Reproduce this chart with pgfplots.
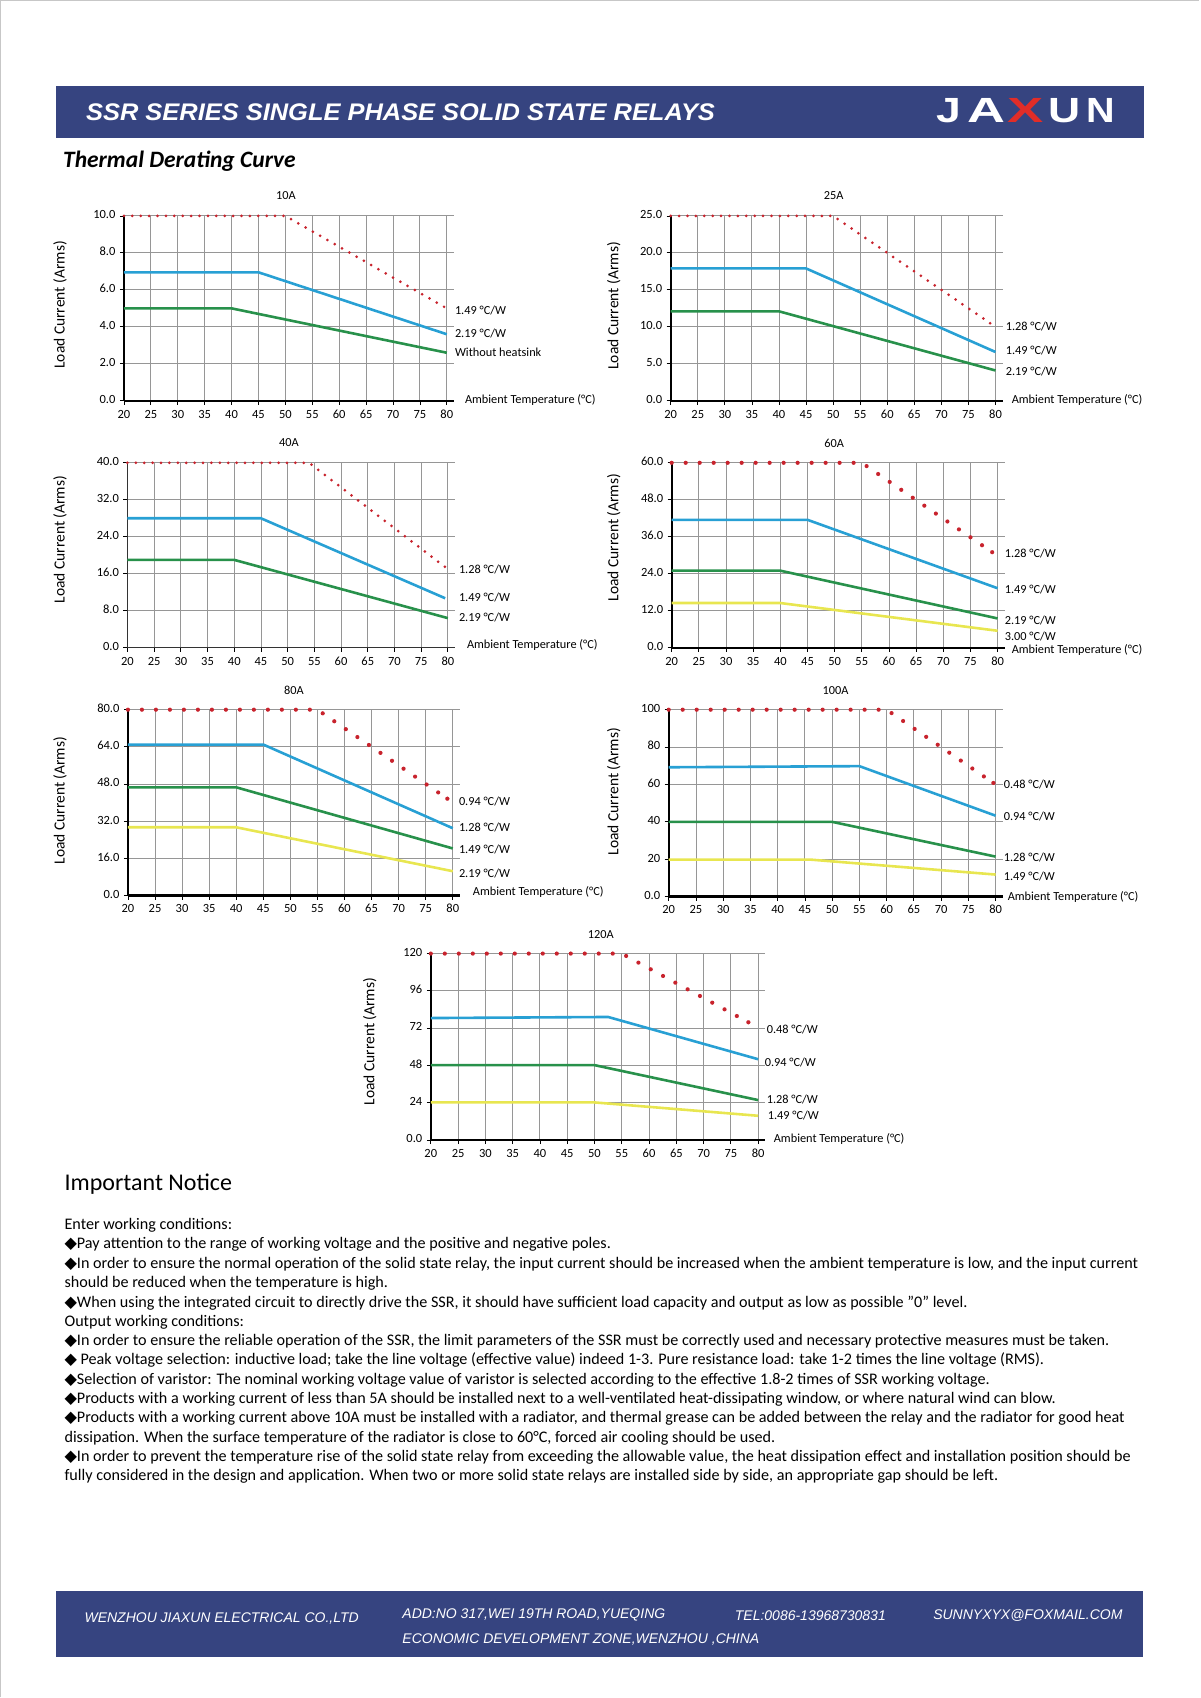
\documentclass[border=0pt]{standalone}
\usepackage{fontspec}
\usepackage{graphicx}
\setmainfont{Carlito}
\newfontfamily\arialfont{Liberation Sans}
\newfontfamily\bannerfont[FakeStretch=1.06]{Liberation Sans}
\newfontfamily\symfont{DejaVu Sans}
\usepackage{pgfplots}
\pgfplotsset{compat=1.18}

\definecolor{bannerblue}{RGB}{54,68,128}
\definecolor{cblue}{RGB}{40,160,212}
\definecolor{cgreen}{RGB}{40,145,75}
\definecolor{cyellow}{RGB}{232,230,80}
\definecolor{cred}{RGB}{200,35,45}
\definecolor{gridgray}{RGB}{150,150,150}
\definecolor{logored}{RGB}{225,45,40}

\newcommand{\labfont}{\fontsize{12.3}{14}\selectfont}
\newcommand{\tickfont}{\fontsize{12.5}{14}\selectfont}
\newcommand{\noticefont}{\fontsize{16.15}{19}\selectfont}
\newcommand{\dia}{{\symfont ◆}}
% text beside the curves: x, y in pixels from the top left corner
\newcommand{\lab}[3]{\node[anchor=west, inner sep=0pt, font=\labfont] at (#1pt,-#2pt) {#3};}
\newcommand{\ctitle}[3]{\node[inner sep=0pt, font=\labfont] at (#1pt,-#2pt) {#3};}
\newcommand{\ylab}[2]{\node[rotate=90, inner sep=0pt, font=\fontsize{15.5}{17}\selectfont] at (#1pt,-#2pt) {Load Current (Arms)};}
\newcommand{\nl}[2]{\node[anchor=west, inner sep=0pt, font=\noticefont] at (64.4pt,-#1pt) {#2};}
% one letter of the logo, widened
\newcommand{\logo}[4]{\node[inner sep=0pt, text=#3, font=\arialfont\bfseries\fontsize{35}{36}\selectfont] at (#1pt,-111pt) {\scalebox{#4}[1]{#2}};}

\pgfplotsset{
  derate/.style={
    scale only axis,
    anchor=south west,
    xmin=20, xmax=81.3, ymin=0,
    xtick={20,25,...,80},
    axis lines=left,
    axis line style={-, line width=2.4pt, black},
    grid=major,
    major grid style={draw=gridgray, line width=0.9pt},
    tick align=outside,
    major tick length=4pt,
    tick style={black, line width=0.8pt},
    tick label style={font=\tickfont},
    typeset ticklabels with strut,
    /pgf/number format/assume math mode=true,
    xticklabel shift=0pt,
    yticklabel shift=1pt,
    clip=false,
  },
  redsmall/.style={draw=cred, line width=3pt, line cap=round, dash pattern=on 0pt off 8.4pt, mark=none},
  redbig/.style={draw=cred, line width=4.2pt, line cap=round, dash pattern=on 0pt off 14pt,
    mark=*, mark indices={3}, mark size=2pt, mark options={solid, line width=0.1pt, fill=cred}},
  blueline/.style={draw=cblue, line width=2.6pt, mark=none},
  greenline/.style={draw=cgreen, line width=2.6pt, mark=none},
  yellowline/.style={draw=cyellow, line width=2.6pt, mark=none},
}

\begin{document}
\begin{tikzpicture}
\path (0pt,0pt) rectangle (1200pt,-1698pt);
\draw[black!22, line width=1.5pt] (0.75pt,-1698pt) -- (0.75pt,-0.75pt) -- (1200pt,-0.75pt);

% header
\fill[bannerblue] (56pt,-86pt) rectangle (1144pt,-138pt);
\node[anchor=west, inner sep=0pt, text=white, font=\bannerfont\bfseries\itshape\fontsize{24}{26}\selectfont] at (86pt,-112pt) {SSR SERIES SINGLE PHASE SOLID STATE RELAYS};
\logo{949}{J}{white}{1.27}
\logo{987}{A}{white}{1.5}
\logo{1026}{X}{logored}{1.55}
\logo{1064.5}{U}{white}{1.27}
\logo{1101}{N}{white}{1.13}
\node[anchor=west, inner sep=0pt, font=\bfseries\itshape\fontsize{23.5}{26}\selectfont] at (63pt,-161pt) {Thermal Derating Curve};

% ---------- 10A
\begin{axis}[derate, at={(124pt,-401pt)}, width=330pt, height=185pt, ymax=10,
  ytick={0,2,...,10}, yticklabels={0.0,2.0,4.0,6.0,8.0,10.0}]
\addplot[redsmall] coordinates {(20,10) (50,10) (80,5)};
\addplot[blueline] coordinates {(20,6.95) (45,6.95) (80,3.6)};
\addplot[greenline] coordinates {(20,5) (40,5) (80,2.6)};
\end{axis}
\ctitle{286}{196}{10A}
\ylab{60}{305}
\lab{455}{311}{1.49 °C/W}
\lab{455}{334}{2.19 °C/W}
\lab{455}{352}{Without heatsink}
\lab{465}{400}{Ambient Temperature (°C)}

% ---------- 25A
\begin{axis}[derate, at={(671pt,-401pt)}, width=332pt, height=185pt, ymax=25,
  ytick={0,5,...,25}, yticklabels={0.0,5.0,10.0,15.0,20.0,25.0}]
\addplot[redsmall] coordinates {(20,25) (50,25) (80,10)};
\addplot[blueline] coordinates {(20,17.9) (45,17.9) (80,6.6)};
\addplot[greenline] coordinates {(20,12.1) (40,12.1) (80,4.1)};
\end{axis}
\ctitle{834}{196}{25A}
\ylab{614}{306}
\lab{1006}{327}{1.28 °C/W}
\lab{1006}{351}{1.49 °C/W}
\lab{1006}{372}{2.19 °C/W}
\lab{1012}{400}{Ambient Temperature (°C)}

% ---------- 40A
\begin{axis}[derate, at={(127.5pt,-648pt)}, width=327.5pt, height=185pt, ymax=40,
  axis line style={-, line width=1pt, black!80},
  ytick={0,8,...,40}, yticklabels={0.0,8.0,16.0,24.0,32.0,40.0}]
\addplot[redsmall] coordinates {(20,40) (54,40) (80,17)};
\addplot[blueline] coordinates {(20,28) (45,28) (79.5,10.7)};
\addplot[greenline] coordinates {(20,19) (40,19) (80,6.4)};
\end{axis}
\ctitle{289}{443}{40A}
\ylab{60}{540}
\lab{459}{570}{1.28 °C/W}
\lab{459}{598}{1.49 °C/W}
\lab{459}{618}{2.19 °C/W}
\lab{467}{645}{Ambient Temperature (°C)}

% ---------- 60A
\begin{axis}[derate, at={(672pt,-648pt)}, width=333.1pt, height=185pt, ymax=60,
  ytick={0,12,...,60}, yticklabels={0.0,12.0,24.0,36.0,48.0,60.0}]
\addplot[redbig] coordinates {(20,60) (55,60) (79,31)};
\addplot[blueline] coordinates {(20,41.5) (45,41.5) (80,19.3)};
\addplot[greenline] coordinates {(20,25) (40,25) (80,9.5)};
\addplot[yellowline] coordinates {(20,14.5) (40,14.5) (80,5.5)};
\end{axis}
\ctitle{834.5}{444}{60A}
\ylab{614}{538}
\lab{1005}{554}{1.28 °C/W}
\lab{1005}{590}{1.49 °C/W}
\lab{1005}{621}{2.19 °C/W}
\lab{1005}{637}{3.00 °C/W}
\lab{1012}{650}{Ambient Temperature (°C)}

% ---------- 80A
\begin{axis}[derate, at={(128pt,-896pt)}, width=332pt, height=186pt, ymax=80,
  ytick={0,16,...,80}, yticklabels={0.0,16.0,32.0,48.0,64.0,80.0}]
\addplot[redbig] coordinates {(20,80) (55,80) (79,41.7)};
\addplot[blueline] coordinates {(20,65) (45,65) (80,29)};
\addplot[greenline] coordinates {(20,46.6) (40,46.6) (80,20.3)};
\addplot[yellowline] coordinates {(20,29.4) (40,29.4) (80,10.5)};
\end{axis}
\ctitle{294}{691}{80A}
\ylab{60}{801}
\lab{459}{802}{0.94 °C/W}
\lab{459}{828}{1.28 °C/W}
\lab{459}{850}{1.49 °C/W}
\lab{459}{874}{2.19 °C/W}
\lab{473}{892}{Ambient Temperature (°C)}

% ---------- 100A
\begin{axis}[derate, at={(669pt,-897pt)}, width=334.1pt, height=187pt, ymax=100,
  ytick={0,20,...,100}, yticklabels={0.0,20,40,60,80,100}]
\addplot[redbig] coordinates {(20,100) (60,100) (79.6,60.8)};
\addplot[blueline] coordinates {(20,69.2) (55,69.8) (80,43.3)};
\addplot[greenline] coordinates {(20,40) (50,40) (80,21.4)};
\addplot[yellowline] coordinates {(20,19.8) (46,19.8) (80,11.8)};
\end{axis}
\ctitle{836}{691}{100A}
\ylab{614}{792}
\lab{1004}{785}{0.48 °C/W}
\lab{1004}{817}{0.94 °C/W}
\lab{1004}{858}{1.28 °C/W}
\lab{1004}{877}{1.49 °C/W}
\lab{1008}{897}{Ambient Temperature (°C)}

% ---------- 120A
\begin{axis}[derate, at={(431pt,-1140.5pt)}, width=334.6pt, height=186.5pt, ymax=120,
  ytick={0,24,...,120}, yticklabels={0.0,24,48,72,96,120}]
\addplot[redbig] coordinates {(20,120) (55,120) (78.2,75.8)};
\addplot[blueline] coordinates {(20,78.5) (52.5,79.2) (80,52)};
\addplot[greenline] coordinates {(20,48.2) (50,48.2) (80,25.7)};
\addplot[yellowline] coordinates {(20,24.2) (50,24.2) (80,15.6)};
\end{axis}
\ctitle{601}{935}{120A}
\ylab{370}{1042}
\lab{767}{1030}{0.48 °C/W}
\lab{765}{1063}{0.94 °C/W}
\lab{767}{1100}{1.28 °C/W}
\lab{768}{1116}{1.49 °C/W}
\lab{774}{1139}{Ambient Temperature (°C)}

% ---------- notice
\node[anchor=west, inner sep=0pt, font=\fontsize{24}{27}\selectfont] at (64.4pt,-1185pt) {Important Notice};
\nl{1226}{Enter working conditions:}
\nl{1245}{\dia Pay attention to the range of working voltage and the positive and negative poles.}
\nl{1265}{\dia In order to ensure the normal operation of the solid state relay, the input current should be increased when the ambient temperature is low, and the input current}
\nl{1284}{should be reduced when the temperature is high.}
\nl{1304}{\dia When using the integrated circuit to directly drive the SSR, it should have sufficient load capacity and output as low as possible "0" level.}
\nl{1323}{Output working conditions:}
\nl{1342}{\dia In order to ensure the reliable operation of the SSR, the limit parameters of the SSR must be correctly used and necessary protective measures must be taken.}
\nl{1361}{\dia\ Peak voltage selection: inductive load; take the line voltage (effective value) indeed 1-3. Pure resistance load: take 1-2 times the line voltage (RMS).}
\nl{1381}{\dia Selection of varistor: The nominal working voltage value of varistor is selected according to the effective 1.8-2 times of SSR working voltage.}
\nl{1400}{\dia Products with a working current of less than 5A should be installed next to a well-ventilated heat-dissipating window, or where natural wind can blow.}
\nl{1419}{\dia Products with a working current above 10A must be installed with a radiator, and thermal grease can be added between the relay and the radiator for good heat}
\nl{1439}{dissipation. When the surface temperature of the radiator is close to 60°C, forced air cooling should be used.}
\nl{1458}{\dia In order to prevent the temperature rise of the solid state relay from exceeding the allowable value, the heat dissipation effect and installation position should be}
\nl{1477}{fully considered in the design and application. When two or more solid state relays are installed side by side, an appropriate gap should be left.}

% ---------- footer
\fill[bannerblue] (56.3pt,-1591.7pt) rectangle (1143.6pt,-1657.3pt);
\begin{scope}[every node/.style={anchor=west, inner sep=0pt, text=white, font=\arialfont\itshape\fontsize{14}{16}\selectfont}]
\node at (84.4pt,-1619pt) {WENZHOU JIAXUN ELECTRICAL CO.,LTD};
\node at (402.4pt,-1616pt) {ADD:NO 317,WEI 19TH ROAD,YUEQING};
\node at (402.4pt,-1640.5pt) {ECONOMIC DEVELOPMENT ZONE,WENZHOU ,CHINA};
\node at (735pt,-1616pt) {TEL:0086-13968730831};
\node at (933.5pt,-1616pt) {SUNNYXYX@FOXMAIL.COM};
\end{scope}
\end{tikzpicture}
\end{document}
